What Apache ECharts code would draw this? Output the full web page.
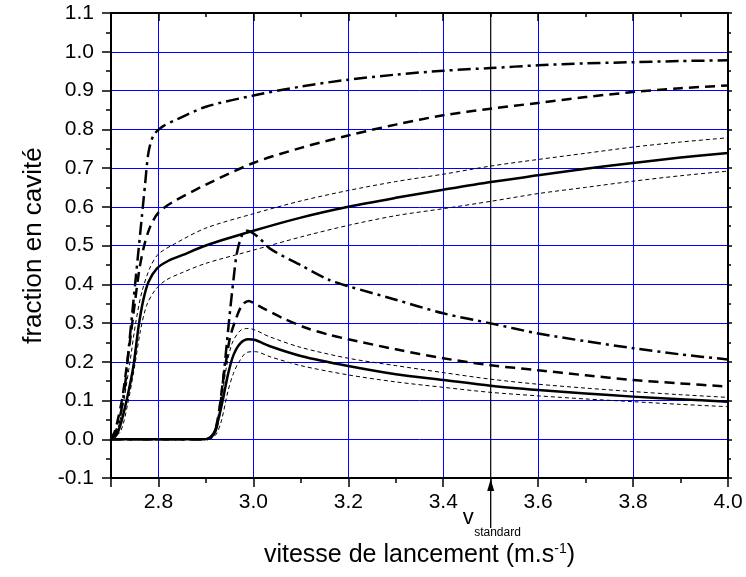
<!DOCTYPE html>
<html><head><meta charset="utf-8">
<script src="https://cdn.jsdelivr.net/npm/echarts@6/dist/echarts.min.js"></script>
<style>html,body{margin:0;padding:0;background:#fff}#c{width:746px;height:577px}</style>
</head><body><div id="c"></div>
<script>
// ---- data ----
const xMin = 2.7, xMax = 4.0;
const yMin = -0.1, yMax = 1.1, yStep = 0.1;
const vStandard = 3.5;

const upperDashDot = [[2.70,0],[2.706,0.005],[2.719,0.058],[2.73,0.144],[2.737,0.23],[2.744,0.316],[2.751,0.402],[2.758,0.488],[2.765,0.574],[2.772,0.66],[2.779,0.74],[2.79,0.785],[2.81,0.808],[2.84,0.826],[2.9,0.858],[3.0,0.887],[3.1,0.91],[3.2,0.928],[3.3,0.941],[3.4,0.951],[3.5,0.958],[3.6,0.965],[3.7,0.97],[3.8,0.973],[3.9,0.976],[4.0,0.978]];
const upperDashed = [[2.70,0],[2.709,0.024],[2.723,0.101],[2.733,0.187],[2.742,0.273],[2.751,0.359],[2.76,0.44],[2.77,0.5],[2.783,0.55],[2.80,0.585],[2.83,0.612],[2.9,0.657],[3.0,0.713],[3.1,0.752],[3.2,0.784],[3.3,0.812],[3.4,0.836],[3.5,0.853],[3.6,0.868],[3.7,0.883],[3.8,0.896],[3.9,0.906],[4.0,0.913]];
const upperThinHigh = [[2.70,0],[2.715,0.03],[2.727,0.1],[2.74,0.2],[2.752,0.3],[2.765,0.38],[2.783,0.445],[2.80,0.478],[2.835,0.505],[2.9,0.545],[3.0,0.582],[3.1,0.615],[3.2,0.642],[3.3,0.665],[3.4,0.684],[3.5,0.705],[3.6,0.722],[3.7,0.738],[3.8,0.754],[3.9,0.767],[4.0,0.778]];
const upperSolid = [[2.70,0],[2.71,0.008],[2.719,0.033],[2.733,0.101],[2.747,0.187],[2.758,0.29],[2.768,0.359],[2.779,0.406],[2.797,0.441],[2.82,0.46],[2.85,0.475],[2.9,0.5],[3.0,0.538],[3.1,0.572],[3.2,0.6],[3.3,0.623],[3.4,0.644],[3.5,0.664],[3.6,0.681],[3.7,0.698],[3.8,0.713],[3.9,0.727],[4.0,0.739]];
const upperThinLow = [[2.70,0],[2.72,0.02],[2.735,0.09],[2.75,0.19],[2.762,0.28],[2.775,0.345],[2.793,0.385],[2.815,0.41],[2.85,0.43],[2.9,0.454],[3.0,0.488],[3.1,0.522],[3.2,0.552],[3.3,0.577],[3.4,0.595],[3.5,0.614],[3.6,0.634],[3.7,0.65],[3.8,0.666],[3.9,0.68],[4.0,0.692]];

const lowerDashDot = [[2.70,0],[2.90,0],[2.915,0.01],[2.923,0.032],[2.93,0.084],[2.937,0.161],[2.944,0.247],[2.951,0.333],[2.958,0.411],[2.965,0.479],[2.976,0.527],[2.986,0.538],[3.01,0.522],[3.035,0.492],[3.1,0.449],[3.16,0.411],[3.2,0.395],[3.3,0.36],[3.4,0.325],[3.5,0.299],[3.6,0.273],[3.7,0.253],[3.8,0.235],[3.9,0.219],[4.0,0.206]];
const lowerDashed = [[2.70,0],[2.90,0],[2.915,0.01],[2.923,0.041],[2.93,0.093],[2.937,0.161],[2.944,0.213],[2.951,0.264],[2.963,0.31],[2.976,0.346],[2.99,0.357],[3.0,0.352],[3.021,0.338],[3.063,0.312],[3.112,0.287],[3.161,0.269],[3.2,0.258],[3.3,0.232],[3.4,0.209],[3.5,0.191],[3.6,0.178],[3.7,0.165],[3.8,0.153],[3.9,0.144],[4.0,0.136]];
const lowerThinHigh = [[2.70,0],[2.90,0],[2.915,0.012],[2.925,0.05],[2.935,0.12],[2.943,0.185],[2.955,0.247],[2.972,0.28],[2.989,0.286],[3.035,0.264],[3.1,0.237],[3.2,0.209],[3.3,0.19],[3.4,0.172],[3.5,0.155],[3.6,0.142],[3.7,0.132],[3.8,0.123],[3.9,0.115],[4.0,0.108]];
const lowerSolid = [[2.70,0],[2.898,0],[2.916,0.015],[2.926,0.05],[2.937,0.11],[2.947,0.17],[2.958,0.217],[2.972,0.247],[2.989,0.258],[3.004,0.256],[3.035,0.24],[3.1,0.215],[3.2,0.189],[3.3,0.168],[3.4,0.153],[3.5,0.138],[3.6,0.127],[3.7,0.118],[3.8,0.11],[3.9,0.103],[4.0,0.097]];
const lowerThinLow = [[2.70,0],[2.905,0],[2.92,0.01],[2.932,0.045],[2.947,0.127],[2.958,0.17],[2.968,0.196],[2.986,0.224],[3.004,0.226],[3.035,0.213],[3.1,0.19],[3.2,0.166],[3.3,0.148],[3.4,0.134],[3.5,0.121],[3.6,0.112],[3.7,0.104],[3.8,0.097],[3.9,0.09],[4.0,0.084]];

// ---- styles ----
const FONT = '"Liberation Sans", Arial, Helvetica, sans-serif';
const STYLES = {
  solid:   { width: 2.5, type: 'solid' },
  dashed:  { width: 2.5, type: [10, 6] },
  dashdot: { width: 2.5, type: [13, 5, 3, 5] },
  thin:    { width: 1, type: [4, 3] }
};
function curve(name, data, style) {
  return {
    name, type: 'line', data, xAxisIndex: 0, yAxisIndex: 0,
    showSymbol: false, symbol: 'none', smooth: 0.3,
    lineStyle: Object.assign({ color: '#000', cap: 'butt', join: 'round' }, STYLES[style]),
    z: 5, silent: true, animation: false
  };
}
const fmt = v => (Math.abs(v) < 1e-9 ? 0 : v).toFixed(1);
const fmtX = v => (Math.abs(v - xMin) < 1e-6 ? '' : v.toFixed(1));
const blk = '#000';
const blue = '#0000ff';

const chart = echarts.init(document.getElementById('c'), null, { renderer: 'canvas' });
// x axes: no fixed interval -> ECharts picks 0.2 steps (2.8, 3.0, ... 4.0), min 2.7 stays as the edge
const baseX = { type: 'value', gridIndex: 0, min: xMin, max: xMax, splitNumber: 7 };
const baseY = { type: 'value', gridIndex: 0, min: yMin, max: yMax, interval: yStep };

chart.setOption({
  animation: false,
  backgroundColor: '#fff',
  grid: { left: 111, right: 18, top: 13, bottom: 99, containLabel: false },
  xAxis: [
    Object.assign({}, baseX, {
      position: 'bottom',
      axisLine: { show: true, onZero: false, lineStyle: { color: blk, width: 2 } },
      axisTick: { show: true, inside: false, length: 9, lineStyle: { color: blk, width: 1.5 } },
      minorTick: { show: true, splitNumber: 2, length: 5, lineStyle: { color: blk, width: 1.5 } },
      axisLabel: { show: true, formatter: fmtX, fontFamily: FONT, fontSize: 21, color: blk, margin: 14, showMinLabel: true, showMaxLabel: true, hideOverlap: false },
      splitLine: { show: true, showMinLine: false, showMaxLine: false, lineStyle: { color: blue, width: 1 } },
      name: '{a|vitesse de lancement (m.s}{s|-1}{a|)}',
      nameLocation: 'middle', nameGap: 64,
      nameTextStyle: {
        rich: {
          a: { fontFamily: FONT, fontSize: 25, color: blk },
          s: { fontFamily: FONT, fontSize: 14, color: blk, verticalAlign: 'top', padding: [0, 0, 12, 0] }
        }
      }
    }),
    Object.assign({}, baseX, {
      position: 'top',
      axisLine: { show: true, onZero: false, lineStyle: { color: blk, width: 2 } },
      axisTick: { show: true, inside: true, length: 8, lineStyle: { color: blk, width: 1.5 } },
      minorTick: { show: true, splitNumber: 2, length: 4, lineStyle: { color: blk, width: 1.5 } },
      axisLabel: { show: false }, splitLine: { show: false }
    })
  ],
  yAxis: [
    Object.assign({}, baseY, {
      position: 'left',
      axisLine: { show: true, onZero: false, lineStyle: { color: blk, width: 2 } },
      axisTick: { show: true, inside: false, length: 9, lineStyle: { color: blk, width: 1.5 } },
      minorTick: { show: true, splitNumber: 2, length: 5, lineStyle: { color: blk, width: 1.5 } },
      axisLabel: { formatter: fmt, fontFamily: FONT, fontSize: 21, color: blk, margin: 17 },
      splitLine: { show: true, showMinLine: false, showMaxLine: false, lineStyle: { color: blue, width: 1 } },
      name: 'fraction en cavité', nameLocation: 'middle', nameGap: 60,
      nameTextStyle: { fontFamily: FONT, fontSize: 26, color: blk }
    }),
    Object.assign({}, baseY, {
      position: 'right',
      axisLine: { show: true, onZero: false, lineStyle: { color: blk, width: 2 } },
      axisTick: { show: true, inside: false, length: 4, lineStyle: { color: blk, width: 1.5 } },
      minorTick: { show: true, splitNumber: 2, length: 3, lineStyle: { color: blk, width: 1.5 } },
      axisLabel: { show: false }, splitLine: { show: false }
    })
  ],
  series: [
    {
      name: 'v_standard', type: 'line', xAxisIndex: 0, yAxisIndex: 0,
      data: [[vStandard, yMin], [vStandard, yMax]], showSymbol: false, symbol: 'none',
      lineStyle: { color: blk, width: 1.2 }, z: 3, silent: true
    },
    curve('upperDashDot', upperDashDot, 'dashdot'),
    curve('upperDashed', upperDashed, 'dashed'),
    curve('upperThinHigh', upperThinHigh, 'thin'),
    curve('upperSolid', upperSolid, 'solid'),
    curve('upperThinLow', upperThinLow, 'thin'),
    curve('lowerDashDot', lowerDashDot, 'dashdot'),
    curve('lowerDashed', lowerDashed, 'dashed'),
    curve('lowerThinHigh', lowerThinHigh, 'thin'),
    curve('lowerSolid', lowerSolid, 'solid'),
    curve('lowerThinLow', lowerThinLow, 'thin')
  ]
});

// v_standard arrow and label, positioned through the axis scale
const px = chart.convertToPixel({ xAxisIndex: 0 }, vStandard);
const py = chart.convertToPixel({ yAxisIndex: 0 }, yMin);
chart.setOption({
  graphic: [
    { type: 'line', shape: { x1: px, y1: py + 50, x2: px, y2: py + 10 }, style: { stroke: blk, lineWidth: 1.3 }, silent: true },
    { type: 'polygon', shape: { points: [[px, py + 1], [px - 3.5, py + 13], [px + 3.5, py + 13]] }, style: { fill: blk }, silent: true },
    { type: 'text', x: px - 28, y: py + 40, style: { text: 'v', font: '22px ' + FONT, fill: blk, textVerticalAlign: 'middle', textAlign: 'left' }, silent: true },
    { type: 'text', x: px - 16.5, y: py + 55, style: { text: 'standard', font: '12px ' + FONT, fill: blk, textVerticalAlign: 'middle', textAlign: 'left' }, silent: true }
  ]
});
</script>
</body></html>
